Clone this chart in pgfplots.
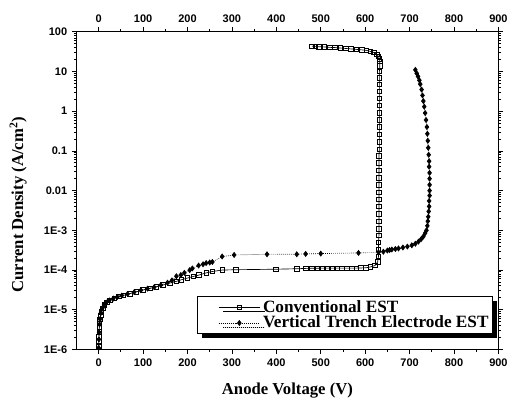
\documentclass[border=0pt]{standalone}
\usepackage{fontspec}
\setmainfont{Liberation Serif}
\newfontfamily\ticksf{Liberation Sans}
\usepackage{pgfplots}
\pgfplotsset{compat=1.18}
\usetikzlibrary{shadows}

\pgfplotsset{
  estframe/.style={
    scale only axis, width=318.75pt, height=240pt,
    xmin=-50, xmax=900, ymin=1e-6, ymax=100,
    xtick={0,100,...,900}, minor x tick num=1,
    tick align=outside,
    major tick length=3.5pt, minor tick length=2pt,
    every tick/.style={black, line width=0.6pt},
    axis line style={line width=0.8pt},
    /pgf/number format/assume math mode=true,
    tick label style={font=\ticksf\bfseries\fontsize{8.3}{10}\selectfont},
  },
}

\begin{document}
\begin{tikzpicture}
\begin{semilogyaxis}[
  estframe,
  xticklabel pos=lower,
  ytick={1e-6,1e-5,1e-4,1e-3,1e-2,1e-1,1,10,100},
  yticklabels={1E-6,1E-5,1E-4,1E-3,0.01,0.1,1,10,100},
  minor ytick={2e-6,3e-6,4e-6,5e-6,6e-6,7e-6,8e-6,9e-6,
               2e-5,3e-5,4e-5,5e-5,6e-5,7e-5,8e-5,9e-5,
               2e-4,3e-4,4e-4,5e-4,6e-4,7e-4,8e-4,9e-4,
               2e-3,3e-3,4e-3,5e-3,6e-3,7e-3,8e-3,9e-3,
               2e-2,3e-2,4e-2,5e-2,6e-2,7e-2,8e-2,9e-2,
               0.2,0.3,0.4,0.5,0.6,0.7,0.8,0.9,
               2,3,4,5,6,7,8,9,20,30,40,50,60,70,80,90},
  xlabel={\bfseries Anode Voltage (V)},
  ylabel={\bfseries Current Density (A/cm$^{\mathbf{2}}$)},
  label style={font=\fontsize{12.6}{14}\selectfont},
  xlabel style={at={(axis description cs:0.5,-0.13)}, anchor=center},
  ylabel style={at={(axis description cs:-0.138,0.456)}, anchor=center},
  legend cell align=left,
  legend style={
    at={(rel axis cs:0.285,0.167)}, anchor=north west,
    draw=black, line width=0.6pt, fill=white,
    font=\bfseries\fontsize{13}{14}\selectfont,
    inner xsep=16pt, inner ysep=0.5pt, row sep=-2.5pt,
    drop shadow={shadow xshift=3.5pt, shadow yshift=-3.5pt, fill=black, opacity=1},
  },
  legend image code/.code={
    \draw[mark repeat=2, mark phase=2, #1] plot coordinates {(0cm,0cm) (0.55cm,0cm) (1.1cm,0cm)};
  },
]
\addplot[black, line width=0.5pt, mark=square, mark size=1.7pt, mark options={solid, line width=0.5pt}] coordinates {
  (0,1.2e-6) (0.3,1.6e-6) (0.6,2.1e-6) (1,2.8e-6) (1.5,3.6e-6) (2,4.5e-6)
  (3,5.8e-6) (4.5,7.2e-6) (6,8.8e-6) (9,1.1e-5) (13,1.35e-5) (18,1.55e-5)
  (25,1.75e-5) (35,1.95e-5) (45,2.15e-5) (55,2.3e-5) (70,2.55e-5) (85,2.85e-5)
  (100,3.15e-5) (115,3.45e-5) (130,3.8e-5) (145,4.2e-5) (160,4.7e-5) (175,5.2e-5)
  (186,5.7e-5) (200,6.3e-5) (213,6.9e-5) (226,7.5e-5) (242,8.5e-5) (256,9.2e-5)
  (278,1e-4) (309,1.02e-4) (399,1.05e-4) (446,1.08e-4) (466,1.1e-4)
  (480,1.11e-4) (492,1.11e-4) (504,1.12e-4) (515,1.12e-4) (526,1.12e-4)
  (537,1.12e-4) (548,1.12e-4) (559,1.12e-4) (570,1.12e-4) (580,1.12e-4)
  (590,1.13e-4) (601,1.14e-4) (612,1.2e-4) (622,1.3e-4) (628,1.6e-4)
  (630,2.2e-4) (630,3.3e-4) (630,5e-4) (631,7.5e-4) (631,1.1e-3) (631,1.7e-3)
  (631,2.6e-3) (631,4e-3) (631,6e-3) (631,9e-3) (631,1.4e-2) (631,2.1e-2)
  (631,3.2e-2) (631,5e-2) (631,7.5e-2) (632,0.11) (632,0.17) (632,0.26)
  (632,0.4) (632,0.6) (632,0.9) (632,1.4) (632,2.1) (632,3.2) (632,4.8)
  (632,7) (632,10) (633,14) (633,18) (632,21) (630,24) (626,27) (620,30)
  (612,32) (603,34) (592,35) (580,36) (568,37) (556,38) (544,39) (532,40)
  (520,40.5) (508,41.5) (496,42) (488,43) (480,43.5)
};
\addlegendentry{Conventional EST\hspace*{-15pt}}
\addplot[black, line width=0.5pt, densely dotted, mark=diamond*, mark size=1.9pt, mark options={solid}] coordinates {
  (0,1.1e-6) (0.5,1.8e-6) (1,2.7e-6) (2,4.3e-6) (3,5.8e-6) (5,8.3e-6)
  (8,1.07e-5) (12,1.32e-5) (17,1.52e-5) (24,1.72e-5) (33,1.92e-5) (42,2.1e-5)
  (52,2.28e-5) (65,2.5e-5) (80,2.78e-5) (95,3.1e-5) (110,3.4e-5) (125,3.7e-5)
  (140,4.2e-5) (155,4.8e-5) (165,5.5e-5) (175,7e-5) (185,7.5e-5) (193,8.5e-5)
  (205,1e-4) (211,1.1e-4) (225,1.3e-4) (235,1.4e-4) (242,1.5e-4) (250,1.55e-4)
  (256,1.6e-4) (278,2.2e-4) (305,2.4e-4) (379,2.5e-4) (446,2.5e-4) (466,2.55e-4)
  (500,2.6e-4) (585,2.7e-4) (630,2.8e-4) (641,2.9e-4) (650,3.1e-4) (655,3.2e-4)
  (660,3.3e-4) (668,3.4e-4) (675,3.5e-4) (685,3.7e-4) (695,3.9e-4) (705,4.2e-4)
  (713,4.6e-4) (720,5.2e-4) (726,6e-4) (731,7e-4) (735,8.5e-4) (738,1e-3)
  (740,1.3e-3) (741,1.7e-3) (742,2.2e-3) (743,3e-3) (744,4e-3) (744,5.5e-3)
  (745,7.5e-3) (745,1e-2) (745,1.4e-2) (745,2e-2) (745,2.8e-2) (744,4e-2)
  (744,5.5e-2) (743,8e-2) (742,0.12) (741,0.18) (740,0.27) (739,0.4)
  (737,0.6) (735,0.9) (733,1.3) (731,1.8) (729,2.5) (727,3.5) (724,4.8)
  (722,6) (719,7.5) (716,9) (713,11)
};
\addlegendentry{Vertical Trench Electrode EST\hspace*{-15pt}}
\end{semilogyaxis}
\begin{semilogyaxis}[
  estframe,
  axis x line*=top, hide y axis,
  xticklabel pos=upper,
]
\addplot[draw=none] coordinates {(0,1)};
\end{semilogyaxis}
\useasboundingbox (-57.75pt,-40.5pt) rectangle (326.25pt,264pt);
\end{tikzpicture}
\end{document}
